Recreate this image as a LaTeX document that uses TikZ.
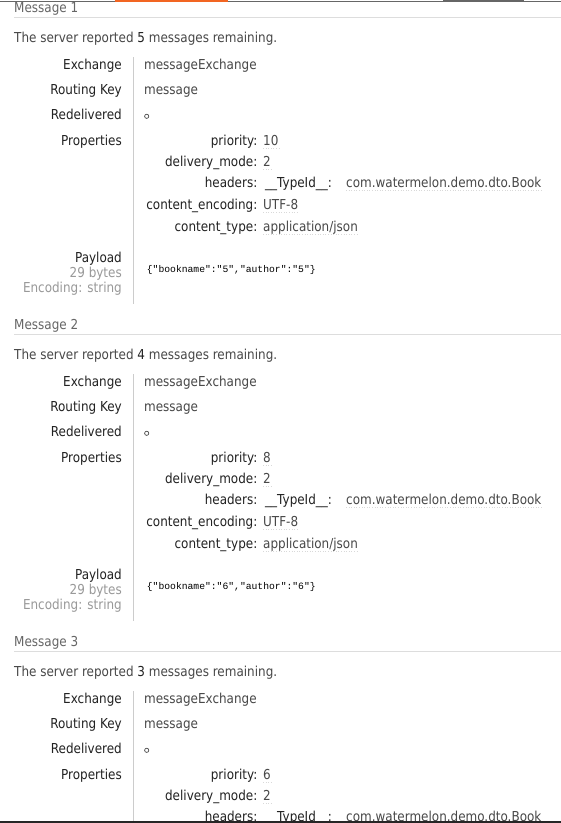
\documentclass[tikz,border=0pt]{standalone}
\usepackage{fontspec}
\setmainfont{DejaVu Sans}[FakeStretch=0.875]
\newfontfamily\payloadfont{Liberation Mono}
\definecolor{labelc}{HTML}{222222}
\definecolor{valc}{HTML}{484848}
\definecolor{titlec}{HTML}{666666}
\definecolor{lightc}{HTML}{999999}
\definecolor{sepc}{HTML}{DDDDDD}
\definecolor{vlinec}{HTML}{CCCCCC}
\definecolor{tabor}{HTML}{F26522}
\tikzset{
  txt/.style={inner sep=0pt, font=\fontsize{13.7}{16}\selectfont},
  lab/.style={txt, anchor=base east, text=labelc},
  val/.style={txt, anchor=base west, text=valc},
  title/.style={txt, anchor=base west, text=titlec},
  plain/.style={txt, anchor=base west, text=valc},
  faint/.style={txt, anchor=base east, text=lightc},
  payload/.style={inner sep=0pt, anchor=base west, text=black, font=\payloadfont\fontsize{9.7}{12}\selectfont},
  seprule/.style={draw=sepc, line width=1pt},
  vrule/.style={draw=vlinec, line width=1pt},
  dotu/.style={draw=black!15, dotted, line width=0.6pt},
  redcirc/.style={circle, draw=valc, line width=0.7pt, minimum size=4.2pt, inner sep=0pt},
}
\newcommand\msgblock[5]{%
\begin{scope}[shift={(0,#1)}]
  \node[title] (title#2) at (14,12) {Message #2};
  \draw[seprule] (14,17.5) -- (561,17.5);
  \node[plain] (rem#2) at (14,42.3) {The server reported \textcolor{labelc}{#3} messages remaining.};
  \draw[vrule] (133.5,57.3) -- (133.5,304.3);
  \node[lab] (exl#2) at (122,69.3) {Exchange};
  \node[val] (exv#2) at (144,69.3) {messageExchange};
  \node[lab] (rkl#2) at (122,94.3) {Routing Key};
  \node[val] (rkv#2) at (144,94.3) {message};
  \node[lab] (rdl#2) at (122,119) {Redelivered};
  \node[redcirc] (rdv#2) at (146.7,116.3) {};
  \node[lab] (prl#2) at (122,145) {Properties};
  \node[lab] (pk1#2) at (257.5,145) {priority:};
  \node[val] (pv1#2) at (263,145) {#4};
  \node[lab] (pk2#2) at (257.5,166) {delivery\_mode:};
  \node[val] (pv2#2) at (263,166) {2};
  \node[lab] (pk3#2) at (257.5,187) {headers:};
  \node[lab, anchor=base west] (pv3a#2) at (265,187) {\_\_TypeId\_\_:};
  \node[val] (pv3b#2) at (346,187) {com.watermelon.demo.dto.Book};
  \node[lab] (pk4#2) at (257.5,209.3) {content\_encoding:};
  \node[val] (pv4#2) at (263,209.3) {UTF-8};
  \node[lab] (pk5#2) at (257.5,231) {content\_type:};
  \node[val] (pv5#2) at (263,231) {application/json};
  \foreach \v in {pv1#2,pv2#2,pv3b#2,pv4#2,pv5#2}
    \draw[dotu] ([yshift=-3.2pt]\v.base west) -- ([yshift=-3.2pt]\v.base east);
  \node[lab] (pll#2) at (122,262.7) {Payload};
  \node[faint] (plb#2) at (122,277.7) {29 bytes};
  \node[faint] (ple#2) at (122,292.7) {Encoding: string};
  \node[payload] (plv#2) at (146.7,272.7) {\{"bookname":"#5","author":"#5"\}};
\end{scope}}
\begin{document}
\begin{tikzpicture}[x=1pt,y=-1pt]
  \useasboundingbox (0,0) rectangle (561,823);
  \fill[white] (0,0) rectangle (561,823);
  \clip (0,0) rectangle (561,823);
  % top tab strip
  \draw[draw=titlec, line width=0.9pt] (0,1.4) -- (561,1.4);
  \draw[draw=tabor, line width=2.2pt] (114.5,0.6) -- (227.5,0.6);
  \draw[draw=titlec, line width=2.2pt] (443,0.6) -- (524,0.6);
  \msgblock{0}{1}{5}{10}{5}
  \msgblock{317}{2}{4}{8}{6}
  \msgblock{634}{3}{3}{6}{7}
  % bottom edge
  \fill[white] (0,821) rectangle (561,823);
  \draw[draw=black!85, line width=1.8pt] (0,821.8) -- (561,821.8);
\end{tikzpicture}
\end{document}
